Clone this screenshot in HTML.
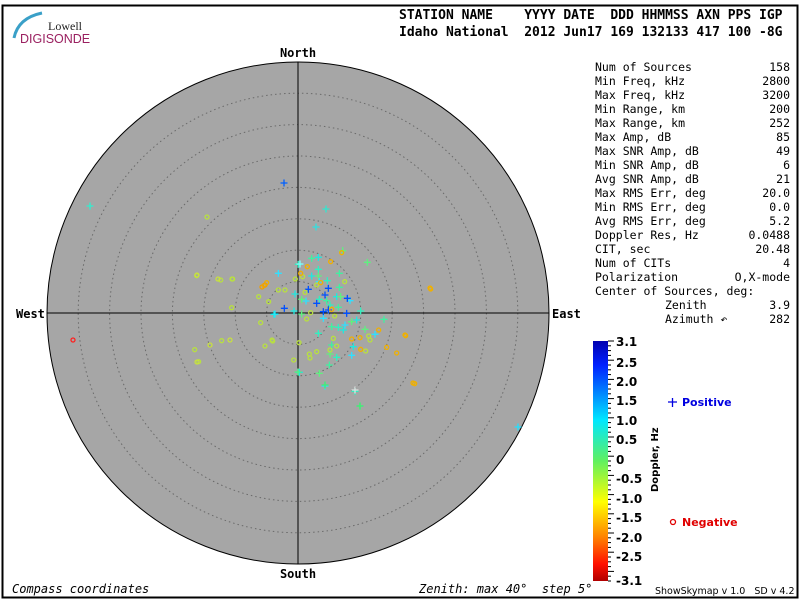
<!DOCTYPE html>
<html><head><meta charset="utf-8"><style>
body{margin:0;background:#fff;width:800px;height:600px;overflow:hidden}
svg{display:block}
text{font-family:"DejaVu Sans Mono","Liberation Mono",monospace;white-space:pre}
</style></head><body>
<svg id="s" width="800" height="600" xmlns="http://www.w3.org/2000/svg">
<defs>
<linearGradient id="cb" x1="0" y1="0" x2="0" y2="1">
<stop offset="0" stop-color="#0000b0"/>
<stop offset="0.1" stop-color="#0020ff"/>
<stop offset="0.33" stop-color="#00e8ff"/>
<stop offset="0.5" stop-color="#60f060"/>
<stop offset="0.67" stop-color="#ffff00"/>
<stop offset="0.82" stop-color="#ff8000"/>
<stop offset="0.93" stop-color="#ff1000"/>
<stop offset="1" stop-color="#b00000"/>
</linearGradient>
</defs>
<rect x="2.5" y="5.5" width="795" height="592" fill="none" stroke="#000" stroke-width="2"/>
<path d="M14,38 Q18,18 42,13" stroke="#3aa0c8" stroke-width="3" fill="none"/>
<text x="48" y="30" font-size="12" fill="#222" style="font-family:'Liberation Serif',serif">Lowell</text>
<text x="20" y="43" font-size="12.5" fill="#9a2060" style="font-family:'Liberation Sans',sans-serif">DIGISONDE</text>
<text x="399" y="19" font-size="13" font-weight="bold">STATION NAME    YYYY DATE  DDD HHMMSS AXN PPS IGP</text>
<text x="399" y="36" font-size="13" font-weight="bold">Idaho National  2012 Jun17 169 132133 417 100 -8G</text>
<circle cx="298" cy="313" r="251" fill="#a6a6a6" stroke="#000"/>
<g id="rings" fill="none" stroke="#6a6a6a" stroke-dasharray="1.5,3"></g>
<line x1="298" y1="62" x2="298" y2="564" stroke="#000"/>
<line x1="47" y1="313" x2="549" y2="313" stroke="#000"/>
<g font-size="12" font-weight="bold">
<text x="298" y="57" text-anchor="middle">North</text>
<text x="298" y="578" text-anchor="middle">South</text>
<text x="16" y="318">West</text>
<text x="552" y="318">East</text>
</g>
<g id="pts" stroke-width="1.3" fill="none"></g>
<g id="panel" font-size="11.5"></g>
<rect x="593" y="341" width="15" height="240" fill="url(#cb)"/>
<g id="cbt" stroke="#000"></g>
<g font-size="12" font-weight="bold" style="font-family:'DejaVu Sans',sans-serif">
<text x="616" y="346" style="font-family:'DejaVu Sans',sans-serif">3.1</text>
<text x="616" y="367" style="font-family:'DejaVu Sans',sans-serif">2.5</text>
<text x="616" y="386" style="font-family:'DejaVu Sans',sans-serif">2.0</text>
<text x="616" y="405" style="font-family:'DejaVu Sans',sans-serif">1.5</text>
<text x="616" y="425" style="font-family:'DejaVu Sans',sans-serif">1.0</text>
<text x="616" y="444" style="font-family:'DejaVu Sans',sans-serif">0.5</text>
<text x="616" y="464" style="font-family:'DejaVu Sans',sans-serif">0</text>
<text x="616" y="483" style="font-family:'DejaVu Sans',sans-serif">-0.5</text>
<text x="616" y="503" style="font-family:'DejaVu Sans',sans-serif">-1.0</text>
<text x="616" y="522" style="font-family:'DejaVu Sans',sans-serif">-1.5</text>
<text x="616" y="542" style="font-family:'DejaVu Sans',sans-serif">-2.0</text>
<text x="616" y="561" style="font-family:'DejaVu Sans',sans-serif">-2.5</text>
<text x="616" y="585" style="font-family:'DejaVu Sans',sans-serif">-3.1</text>
<text transform="translate(658,492) rotate(-90)" font-size="10" style="font-family:'DejaVu Sans',sans-serif">Doppler, Hz</text>
<text x="682" y="406" fill="#0000e0" font-size="11" style="font-family:'DejaVu Sans',sans-serif">Positive</text>
<text x="682" y="526" fill="#e00000" font-size="11" style="font-family:'DejaVu Sans',sans-serif">Negative</text>
</g>
<path d="M668,402h9M672.5,398v9" stroke="#0000e0" stroke-width="1.3"/>
<circle cx="673" cy="522" r="2.5" fill="none" stroke="#e00000" stroke-width="1.3"/>
<g font-size="12" font-style="italic">
<text x="12" y="593">Compass coordinates</text>
<text x="419" y="593">Zenith: max 40°  step 5°</text>
</g>
<text x="655" y="594" font-size="9.5" style="font-family:'DejaVu Sans',sans-serif">ShowSkymap v 1.0   SD v 4.2</text>
</svg>
<script>
var NS="http://www.w3.org/2000/svg";
function el(p,t,a,txt){var e=document.createElementNS(NS,t);for(var k in a)e.setAttribute(k,a[k]);if(txt!=null)e.textContent=txt;document.getElementById(p).appendChild(e);return e;}
for(var i=1;i<8;i++)el("rings","circle",{cx:298,cy:313,r:i*31.4});
var rows=[["Num of Sources","158"],["Min Freq, kHz","2800"],["Max Freq, kHz","3200"],["Min Range, km","200"],["Max Range, km","252"],["Max Amp, dB","85"],["Max SNR Amp, dB","49"],["Min SNR Amp, dB","6"],["Avg SNR Amp, dB","21"],["Max RMS Err, deg","20.0"],["Min RMS Err, deg","0.0"],["Avg RMS Err, deg","5.2"],["Doppler Res, Hz","0.0488"],["CIT, sec","20.48"],["Num of CITs","4"],["Polarization","O,X-mode"],["Center of Sources, deg:",""],["Zenith","3.9",665],["Azimuth \u21b6","282",665]];
rows.forEach(function(r,i){var y=71+i*14;el("panel","text",{x:r[2]||595,y:y},r[0]);if(r[1])el("panel","text",{x:790,y:y,"text-anchor":"end"},r[1]);});
for(var y=341;y<=581;y+=4.8){var m=Math.round((y-341)/4.8)%4==0;el("cbt","line",{x1:608,y1:y,x2:m?614:611,y2:y});}
function Z(a){return [190+a[0]/3,230+a[1]/3];}
var plus=[[325,103],[365,85],[385,82],[532,97],[265,130],[385,118],[448,130],[365,138],[385,138],[388,155],[412,152],[448,172],[315,192],[335,208],[348,213],[388,208],[410,212],[440,200],[452,200],[480,212],[420,225],[445,232],[312,243],[335,252],[400,265],[512,243],[582,268],[500,270],[485,275],[465,285],[445,292],[425,290],[460,300],[525,298],[555,313],[385,310],[425,345],[490,350],[420,372],[485,376],[440,382],[418,405],[328,427],[388,430],[405,468],[495,484],[510,528],[252,253],[458,62]];
var cols=["#30f0c0","#40f0a0","#20e8e0","#60f080","#30e0ff"];
plus.forEach(function(p,i){var q=Z(p);el("pts","path",{d:"M"+(q[0]-3.5)+","+q[1]+"h7M"+q[0]+","+(q[1]-3.5)+"v7",stroke:cols[i%5]});});
var blue=[[283,235],[355,178],[380,220],[405,195],[415,175],[472,205],[400,245],[415,240],[470,250]];
blue.forEach(function(p){var q=Z(p);el("pts","path",{d:"M"+(q[0]-3.5)+","+q[1]+"h7M"+q[0]+","+(q[1]-3.5)+"v7",stroke:"#0050ff"});});
var circ=[[20,137],[92,150],[128,147],[206,200],[236,215],[125,233],[265,180],[285,180],[316,147],[338,140],[345,187],[380,165],[464,155],[212,278],[350,267],[362,248],[248,333],[95,332],[14,359],[26,395],[311,390],[327,338],[358,372],[380,365],[430,325],[440,348],[536,318],[540,330],[527,363],[434,258]];
circ.forEach(function(p){var q=Z(p);el("pts","circle",{cx:q[0],cy:q[1],r:2,stroke:"#b8e040"});});
var circO=[[222,167],[230,158],[352,110],[332,130],[392,158],[422,95],[455,68],[722,177],[485,327],[510,323],[512,358],[566,300],[590,352],[620,369],[647,317],[674,461],[425,238]];
circO.forEach(function(p){var q=Z(p);el("pts","circle",{cx:q[0],cy:q[1],r:2,stroke:"#f0b000"});});
var extraP=[[284,183,"#0060ff"],[90,206,"#30f0d0"],[326,209,"#30e8d0"],[316,227,"#30e0e0"],[518,427,"#20e0ff"],[360,406,"#40f070"],[355,390,"#e0e0e0"],[325,385,"#40f070"],[298,372,"#50f080"],[300,264,"#80ffff"],[275,314,"#20e8ff"]];
extraP.forEach(function(p){el("pts","path",{d:"M"+(p[0]-3.5)+","+p[1]+"h7M"+p[0]+","+(p[1]-3.5)+"v7",stroke:p[2]});});
var extraC=[[207,217,"#b8e040"],[73,340,"#ff2020"],[413,383,"#f0b000"],[430,288,"#f0b000"],[405,335,"#f0b000"],[197,275,"#c8e040"],[218,279,"#c8e040"],[232,279,"#b8e040"],[197,362,"#c8e040"],[210,345,"#c8e040"],[230,340,"#c8e040"],[265,346,"#b8e040"],[272,340,"#b8e040"],[310,358,"#b8e040"],[330,350,"#b8e040"],[265,285,"#f0a000"],[262,287,"#f0a000"]];
extraC.forEach(function(p){el("pts","circle",{cx:p[0],cy:p[1],r:2,stroke:p[2]});});
</script>
</body></html>
